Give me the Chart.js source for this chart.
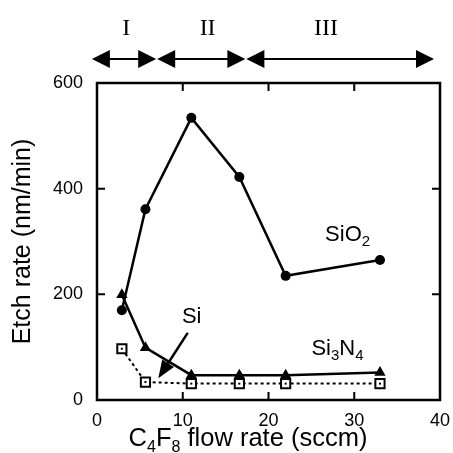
<!DOCTYPE html>
<html><head><meta charset="utf-8">
<script src="https://cdn.jsdelivr.net/npm/chart.js@4/dist/chart.umd.min.js"></script>
<style>html,body{margin:0;padding:0;background:#fff}#wrap{width:453px;height:453px}</style>
</head><body><div id="wrap"><canvas id="c" width="453" height="453"></canvas></div>
<script>
const flowRates = [2.9, 5.65, 11, 16.6, 22, 33];
const sio2Rates = [170, 361, 534, 422, 235, 265];
const si3n4Rates = [199, 99, 47, 47, 47, 52];
const siRates = [97, 34, 31, 31, 31, 31];
const xTickValues = [0, 10, 20, 30, 40];
const yTickValues = [0, 200, 400, 600];
const regionBounds = [-0.6, 6.9, 17.3, 39.3];
const regionLabels = ['I', 'II', 'III'];
const regionLabelX = [3.4, 12.9, 26.7];

const SANS = "'Liberation Sans', Arial, Helvetica, sans-serif";
const SERIF = "'Liberation Serif', 'Times New Roman', serif";
Chart.defaults.font.family = SANS;
Chart.defaults.font.size = 18;
Chart.defaults.color = '#000';

function pts(xs, ys) { return xs.map((x, i) => ({x: x, y: ys[i]})); }

function arrowHead(ctx, tx, ty, dx, dy, len, hw) {
  const m = Math.hypot(dx, dy); dx /= m; dy /= m;
  const bx = tx - dx * len, by = ty - dy * len;
  ctx.beginPath();
  ctx.moveTo(tx, ty);
  ctx.lineTo(bx - dy * hw, by + dx * hw);
  ctx.lineTo(bx + dy * hw, by - dx * hw);
  ctx.closePath();
  ctx.fill();
}

function subText(ctx, parts, x, y, big, small, align) {
  let total = 0;
  const widths = parts.map(p => { ctx.font = (p[1] ? small : big) + 'px ' + SANS; const w = ctx.measureText(p[0]).width; total += w; return w; });
  let cx = align === 'center' ? x - total / 2 : x;
  ctx.textAlign = 'left';
  ctx.textBaseline = 'alphabetic';
  parts.forEach((p, i) => {
    ctx.font = (p[1] ? small : big) + 'px ' + SANS;
    ctx.fillText(p[0], cx, p[1] ? y + big * 0.22 : y);
    cx += widths[i];
  });
}

const decor = {
  id: 'decor',
  afterDatasetsDraw(chart) {
    const ctx = chart.ctx;
    const xs = chart.scales.x, ys = chart.scales.y;
    const a = chart.chartArea;
    ctx.save();
    ctx.fillStyle = '#000';
    ctx.strokeStyle = '#000';
    const meta = chart.getDatasetMeta(2);
    meta.data.forEach(p => { ctx.fillRect(p.x - 1, p.y - 1, 2, 2); });
    ctx.lineWidth = 2.5;
    ctx.strokeRect(a.left, a.top, a.right - a.left, a.bottom - a.top);
    ctx.lineWidth = 2;
    ctx.beginPath();
    xTickValues.slice(1, -1).forEach(v => {
      const px = xs.getPixelForValue(v);
      ctx.moveTo(px, a.bottom); ctx.lineTo(px, a.bottom - 8);
      ctx.moveTo(px, a.top); ctx.lineTo(px, a.top + 8);
    });
    yTickValues.slice(1, -1).forEach(v => {
      const py = ys.getPixelForValue(v);
      ctx.moveTo(a.left, py); ctx.lineTo(a.left + 8, py);
      ctx.moveTo(a.right, py); ctx.lineTo(a.right - 8, py);
    });
    ctx.stroke();
    subText(ctx, [['SiO', false], ['2', true]], xs.getPixelForValue(26.6), ys.getPixelForValue(301), 22, 15, 'left');
    subText(ctx, [['Si', false], ['3', true], ['N', false], ['4', true]], xs.getPixelForValue(25.0), ys.getPixelForValue(85), 22, 15, 'left');
    subText(ctx, [['Si', false]], xs.getPixelForValue(9.9), ys.getPixelForValue(146), 22, 15, 'left');
    const sx = xs.getPixelForValue(10.58), sy = ys.getPixelForValue(127);
    const tx = xs.getPixelForValue(7.15), ty = ys.getPixelForValue(41);
    ctx.lineWidth = 2.5;
    ctx.beginPath();
    const dl = Math.hypot(tx - sx, ty - sy);
    ctx.moveTo(sx, sy);
    ctx.lineTo(tx - (tx - sx) / dl * 12, ty - (ty - sy) / dl * 12);
    ctx.stroke();
    arrowHead(ctx, tx, ty, tx - sx, ty - sy, 18, 7);
    const ay = 59;
    ctx.lineWidth = 2;
    for (let i = 0; i < 3; i++) {
      const l = xs.getPixelForValue(regionBounds[i]) + (i ? 1 : 0);
      const r = xs.getPixelForValue(regionBounds[i + 1]);
      ctx.beginPath();
      ctx.moveTo(l + 10, ay); ctx.lineTo(r - 10, ay);
      ctx.stroke();
      arrowHead(ctx, l, ay, -1, 0, 18, 9);
      arrowHead(ctx, r, ay, 1, 0, 18, 9);
      ctx.font = '24px ' + SERIF;
      ctx.textAlign = 'center';
      ctx.textBaseline = 'alphabetic';
      ctx.fillText(regionLabels[i], xs.getPixelForValue(regionLabelX[i]), 35);
    }
    subText(ctx, [['C', false], ['4', true], ['F', false], ['8', true], [' flow rate (sccm)', false]], 248, 446, 25.5, 16, 'center');
    ctx.save();
    ctx.translate(23, (a.top + a.bottom) / 2);
    ctx.rotate(-Math.PI / 2);
    ctx.font = '25px ' + SANS;
    ctx.textAlign = 'center';
    ctx.textBaseline = 'middle';
    ctx.fillText('Etch rate (nm/min)', 0, 0);
    ctx.restore();
    ctx.restore();
  }
};

new Chart(document.getElementById('c'), {
  type: 'line',
  data: {
    datasets: [
      { label: 'SiO2', data: pts(flowRates, sio2Rates), borderColor: '#000', backgroundColor: '#000', borderWidth: 2.5,
        pointStyle: 'circle', pointRadius: 5, pointBorderWidth: 0, tension: 0 },
      { label: 'Si3N4', data: pts(flowRates, si3n4Rates), borderColor: '#000', backgroundColor: '#000', borderWidth: 2.5,
        pointStyle: 'triangle', pointRadius: 6.5, pointBorderWidth: 0, tension: 0 },
      { label: 'Si', data: pts(flowRates, siRates), borderColor: '#000', backgroundColor: '#fff', borderWidth: 2, borderDash: [3, 3],
        pointStyle: 'rect', pointRadius: 6.5, pointBorderWidth: 2, pointBorderColor: '#000', pointBackgroundColor: '#fff', tension: 0 }
    ]
  },
  options: {
    responsive: false,
    animation: false,
    devicePixelRatio: 1,
    layout: { padding: { top: 83, right: 13, bottom: 0, left: 0 } },
    plugins: { legend: { display: false }, tooltip: { enabled: false } },
    scales: {
      x: {
        type: 'linear', min: 0, max: 40,
        afterFit: s => { s.height = 53; s.paddingLeft = 0; s.paddingRight = 0; },
        afterBuildTicks: s => { s.ticks = xTickValues.map(v => ({value: v})); },
        grid: { display: false, drawTicks: false },
        border: { display: false },
        ticks: { color: '#000', font: { family: SANS, size: 18 }, padding: 10, maxRotation: 0 }
      },
      y: {
        type: 'linear', min: 0, max: 600,
        afterFit: s => { s.width = 97; s.paddingTop = 0; s.paddingBottom = 0; },
        afterBuildTicks: s => { s.ticks = yTickValues.map(v => ({value: v})); },
        grid: { display: false, drawTicks: false },
        border: { display: false },
        ticks: { color: '#000', font: { family: SANS, size: 18 }, padding: 14 }
      }
    }
  },
  plugins: [decor]
});
</script>
</body></html>
